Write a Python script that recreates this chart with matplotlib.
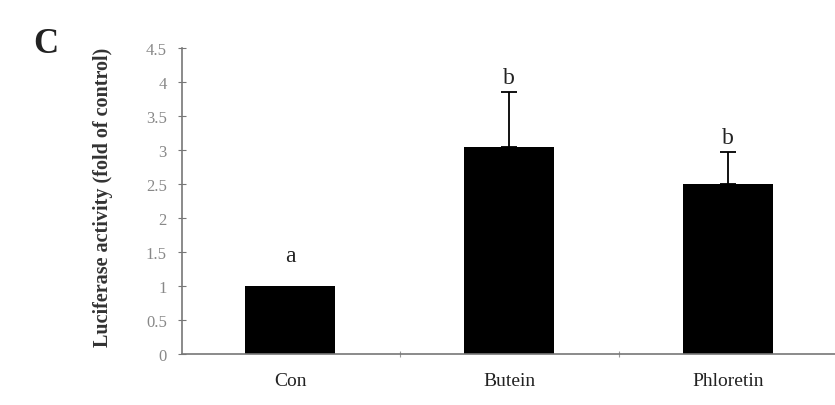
import numpy as np
import matplotlib.pyplot as plt

groups = ['Con', 'Butein', 'Phloretin']
activity = [1.0, 3.04, 2.5]
err_up = [0.0, 0.81, 0.47]
letters = ['a', 'b', 'b']

plt.rcParams['font.family'] = ['Liberation Serif', 'DejaVu Serif']

fig = plt.figure(figsize=(8.35, 4.06), dpi=100)
ax = fig.add_axes([0.218, 0.126, 0.785, 0.753])

x = np.arange(len(groups))
ax.bar(x, activity, width=0.41, color='black', zorder=2)
for i in range(len(x)):
    if err_up[i] > 0:
        ax.errorbar(x[i], activity[i], yerr=[[0], [err_up[i]]], color='black',
                    elinewidth=1.3, capsize=5.5, capthick=1.3, zorder=3)
    pad = 0.3 if err_up[i] == 0 else 0.06
    ax.text(x[i], activity[i] + err_up[i] + pad, letters[i], ha='center', va='bottom',
            fontsize=17, color='#222222')

ax.set_xlim(-0.495, 2.5)
ax.set_ylim(0, 4.5)
ax.set_yticks(np.arange(0, 4.51, 0.5))
ax.set_yticklabels(['0', '0.5', '1', '1.5', '2', '2.5', '3', '3.5', '4', '4.5'])
ax.set_xticks(x)
ax.set_xticklabels(groups)
ax.set_xticks([0.5, 1.5], minor=True)

for s in ['top', 'right']:
    ax.spines[s].set_visible(False)
for s in ['left', 'bottom']:
    ax.spines[s].set_color('#777777')
    ax.spines[s].set_linewidth(1.2)

ax.tick_params(axis='y', direction='inout', length=6, width=0.8, colors='#777777',
               labelsize=12, labelcolor='#888888', pad=8)
ax.tick_params(axis='x', which='major', length=0, labelsize=14, pad=13, labelcolor='#222222')
ax.tick_params(axis='x', which='minor', direction='inout', length=5, width=0.8, colors='#999999')

ax.set_ylabel('Luciferase activity (fold of control)', fontsize=14.5, fontweight='bold',
              color='#333333')
ax.yaxis.set_label_coords(-0.106, 0.515)

fig.text(0.04, 0.89, 'C', fontsize=25, fontweight='bold', color='#222222', ha='left', va='center')

fig.savefig('out.png', dpi=100)
